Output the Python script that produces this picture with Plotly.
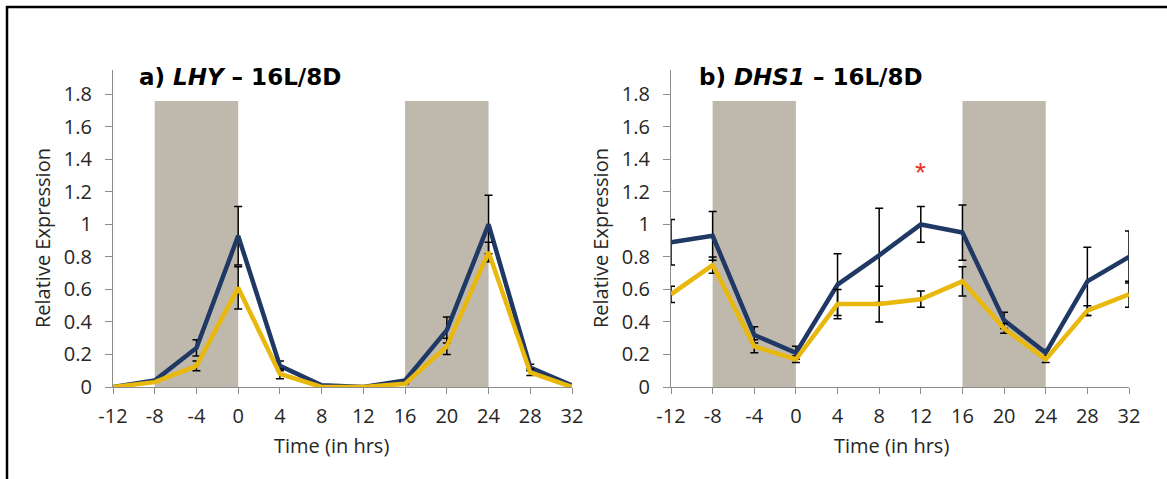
import plotly.graph_objects as go

W, H = 1167, 479

times = [-12, -8, -4, 0, 4, 8, 12, 16, 20, 24, 28, 32]
x_ticks = [-12, -8, -4, 0, 4, 8, 12, 16, 20, 24, 28, 32]
x_tick_text = ["-12", "-8", "-4", "0", "4", "8", "12", "16", "20", "24", "28", "32"]
y_ticks = [0, 0.2, 0.4, 0.6, 0.8, 1.0, 1.2, 1.4, 1.6, 1.8]
y_tick_text = ["0", "0.2", "0.4", "0.6", "0.8", "1", "1.2", "1.4", "1.6", "1.8"]
dark_periods = [(-8, 0), (16, 24)]
dark_top = 1.76

# Panel a) LHY
lhy_blue = [0.0, 0.04, 0.24, 0.93, 0.13, 0.01, 0.0, 0.04, 0.35, 1.0, 0.12, 0.01]
lhy_blue_err = [0.0, 0.0, 0.05, 0.18, 0.03, 0.0, 0.0, 0.0, 0.08, 0.18, 0.02, 0.0]
lhy_yellow = [0.0, 0.03, 0.13, 0.61, 0.08, 0.0, 0.0, 0.02, 0.25, 0.83, 0.09, 0.0]
lhy_yellow_err = [0.0, 0.0, 0.03, 0.13, 0.03, 0.0, 0.0, 0.0, 0.05, 0.06, 0.02, 0.0]

# Panel b) DHS1
dhs_blue = [0.89, 0.93, 0.32, 0.21, 0.63, 0.81, 1.0, 0.95, 0.41, 0.21, 0.65, 0.80]
dhs_blue_err = [0.14, 0.15, 0.05, 0.04, 0.19, 0.29, 0.11, 0.17, 0.05, 0.02, 0.21, 0.16]
dhs_yellow = [0.57, 0.75, 0.25, 0.17, 0.51, 0.51, 0.54, 0.65, 0.36, 0.17, 0.47, 0.57]
dhs_yellow_err = [0.05, 0.05, 0.04, 0.02, 0.09, 0.11, 0.05, 0.09, 0.03, 0.02, 0.03, 0.08]

star_x, star_y = 12, 1.32

BLUE = "#1F3864"
GOLD = "#E9B80C"
SHADE = "#BFB8AD"
AXIS = "#8C8C8C"
TXT = "#262626"
FONT = "Open Sans"
TITLE_FONT = "DejaVu Sans"

fig = go.Figure()

def px_x(p):
    return p / W

def px_y(p):
    return 1 - p / H

panels = [
    ("x", "y", lhy_blue, lhy_blue_err, lhy_yellow, lhy_yellow_err),
    ("x2", "y2", dhs_blue, dhs_blue_err, dhs_yellow, dhs_yellow_err),
]
for xa, ya, b, be, yv, ye in panels:
    fig.add_trace(go.Scatter(
        x=times, y=b, mode="lines", xaxis=xa, yaxis=ya,
        line=dict(color=BLUE, width=4.5),
        error_y=dict(type="data", array=be, visible=True, color="black", thickness=1.5, width=4),
        showlegend=False, hoverinfo="skip"))
    fig.add_trace(go.Scatter(
        x=times, y=yv, mode="lines", xaxis=xa, yaxis=ya,
        line=dict(color=GOLD, width=4.5),
        error_y=dict(type="data", array=ye, visible=True, color="black", thickness=1.5, width=4),
        showlegend=False, hoverinfo="skip"))
    for x0, x1 in dark_periods:
        fig.add_shape(type="rect", xref=xa, yref=ya, x0=x0, x1=x1, y0=0, y1=dark_top,
                      fillcolor=SHADE, line=dict(width=0), layer="below")

ydom = [px_y(387), px_y(70)]
xcommon = dict(range=[-12, 32], tickvals=x_ticks, ticktext=x_tick_text, showline=True,
               linecolor=AXIS, linewidth=1.2, automargin=False, ticklabelstandoff=5,
               ticks="outside", tickcolor=AXIS, ticklen=6, showgrid=False, zeroline=False,
               tickfont=dict(family=FONT, size=20, color=TXT), fixedrange=True)
ycommon = dict(range=[0, 1.95], tickvals=y_ticks, ticktext=y_tick_text, showline=True,
               linecolor=AXIS, linewidth=1.2, ticks="outside", tickcolor=AXIS, ticklen=7,
               ticklabelstandoff=9,
               showgrid=False, zeroline=False, domain=ydom, automargin=False,
               tickfont=dict(family=FONT, size=20, color=TXT), fixedrange=True)

fig.update_layout(
    width=W, height=H, margin=dict(l=0, r=0, t=0, b=0, pad=0),
    paper_bgcolor="white", plot_bgcolor="rgba(0,0,0,0)",
    xaxis=dict(domain=[px_x(113), px_x(572)], anchor="y", **xcommon),
    yaxis=dict(anchor="x", **ycommon),
    xaxis2=dict(domain=[px_x(671), px_x(1129)], anchor="y2", **xcommon),
    yaxis2=dict(anchor="x2", **ycommon),
)

# Frame lines (top and left)
fig.add_shape(type="line", xref="paper", yref="paper", x0=px_x(6), x1=1, y0=px_y(7), y1=px_y(7),
              line=dict(color="black", width=2.5))
fig.add_shape(type="line", xref="paper", yref="paper", x0=px_x(7), x1=px_x(7), y0=px_y(6), y1=0,
              line=dict(color="black", width=2.5))

anns = [
    dict(text="<b>a) <i>LHY</i> – 16L/8D</b>", x=px_x(137), y=px_y(77), xanchor="left", yanchor="middle",
         font=dict(family=TITLE_FONT, size=23, color="black")),
    dict(text="<b>b) <i>DHS1</i> – 16L/8D</b>", x=px_x(697), y=px_y(77), xanchor="left", yanchor="middle",
         font=dict(family=TITLE_FONT, size=23, color="black")),
    dict(text="Time (in hrs)", x=px_x(331), y=px_y(445), xanchor="center", yanchor="middle",
         font=dict(family=FONT, size=20, color=TXT)),
    dict(text="Time (in hrs)", x=px_x(891), y=px_y(445), xanchor="center", yanchor="middle",
         font=dict(family=FONT, size=20, color=TXT)),
    dict(text="Relative Expression", x=px_x(42), y=px_y(238), xanchor="center", yanchor="middle",
         textangle=-90, font=dict(family=FONT, size=20, color=TXT)),
    dict(text="Relative Expression", x=px_x(600), y=px_y(238), xanchor="center", yanchor="middle",
         textangle=-90, font=dict(family=FONT, size=20, color=TXT)),
]
for a in anns:
    fig.add_annotation(xref="paper", yref="paper", showarrow=False, **a)

fig.add_annotation(xref="x2", yref="y2", x=star_x, y=star_y, text="*", showarrow=False,
                   font=dict(family="Liberation Sans", size=28, color="#E8321E"))

fig.write_html("out.html")
